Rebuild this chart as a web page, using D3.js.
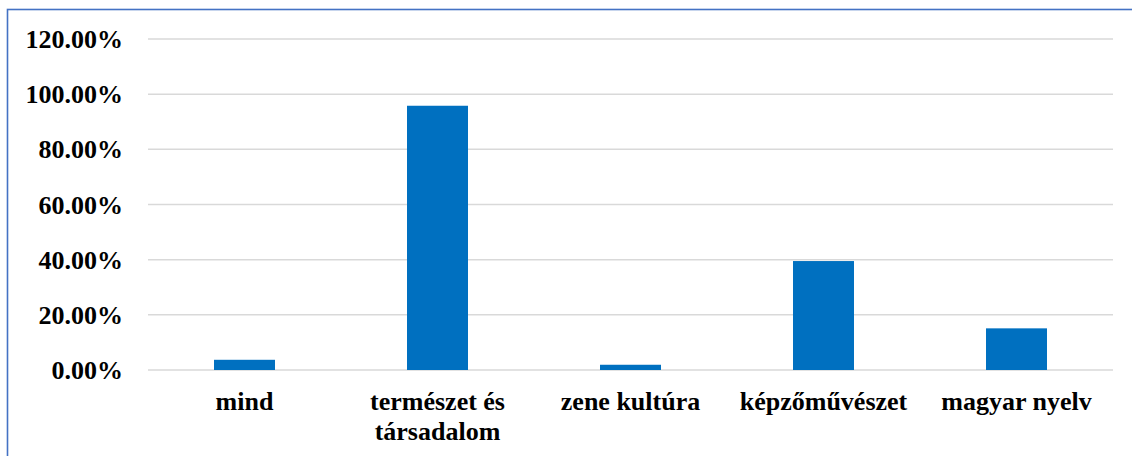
<!DOCTYPE html>
<html>
<head>
<meta charset="utf-8">
<script src="https://cdn.jsdelivr.net/npm/d3@7"></script>
<style>
  body { margin: 0; background: #fff; }
</style>
</head>
<body>
<div id="chart"></div>
<script>
// data
var categories = ["mind", "természet és társadalom", "zene kultúra", "képzőművészet", "magyar nyelv"];
var categoryLines = [["mind"], ["természet és", "társadalom"], ["zene kultúra"], ["képzőművészet"], ["magyar nyelv"]];
var shares = [0.037, 0.958, 0.019, 0.395, 0.151];
var yTicks = [0, 0.2, 0.4, 0.6, 0.8, 1.0, 1.2];

var FONT = "'Liberation Serif', 'Times New Roman', serif";

var W = 1132, H = 456;
var margin = { top: 39, right: 19, bottom: 86, left: 148 };
var width = W - margin.left - margin.right;
var height = H - margin.top - margin.bottom;

var svg = d3.select("#chart").append("svg")
    .attr("width", W)
    .attr("height", H);

// outer frame (only left and top visible)
svg.append("rect")
    .attr("x", 7.5).attr("y", 9.5)
    .attr("width", W + 20).attr("height", H + 20)
    .attr("fill", "none")
    .attr("stroke", "#4472C4")
    .attr("stroke-width", 1.6);

var g = svg.append("g")
    .attr("transform", "translate(" + margin.left + "," + margin.top + ")");

var x = d3.scaleBand()
    .domain(categories)
    .range([0, width])
    .paddingInner(0.684)
    .paddingOuter(0.342);

var y = d3.scaleLinear()
    .domain([0, 1.2])
    .range([height, 0]);

// gridlines
g.append("g")
  .selectAll("line")
  .data(yTicks)
  .enter().append("line")
    .attr("x1", 0).attr("x2", width)
    .attr("y1", function(d) { return y(d); })
    .attr("y2", function(d) { return y(d); })
    .attr("stroke", "#d9d9d9")
    .attr("stroke-width", 1.5);

// y axis labels
var yAxis = d3.axisLeft(y)
    .tickValues(yTicks)
    .tickSize(0)
    .tickPadding(25)
    .tickFormat(function(d) { return (d * 100).toFixed(2) + "%"; });
var ya = g.append("g").call(yAxis);
ya.select(".domain").remove();
ya.attr("font-family", null).attr("font-size", null);
ya.selectAll("text")
    .style("font-family", FONT)
    .style("font-weight", "bold")
    .style("font-size", "26px")
    .style("fill", "#000")
    .attr("dy", "0.33em");

// bars
g.selectAll(".bar")
  .data(shares)
  .enter().append("rect")
    .attr("class", "bar")
    .attr("x", function(d, i) { return x(categories[i]); })
    .attr("width", x.bandwidth())
    .attr("y", function(d) { return y(d); })
    .attr("height", function(d) { return height - y(d); })
    .attr("fill", "#0070C0");

// x labels
var xl = g.append("g").selectAll("text")
  .data(categories)
  .enter().append("text")
    .attr("text-anchor", "middle")
    .style("font-family", FONT)
    .style("font-weight", "bold")
    .style("font-size", "26px")
    .style("fill", "#000")
    .attr("transform", function(d) {
      return "translate(" + (x(d) + x.bandwidth() / 2) + "," + (height + 40) + ")";
    });
xl.each(function(d, i) {
  var t = d3.select(this);
  categoryLines[i].forEach(function(line, k) {
    t.append("tspan").attr("x", 0).attr("y", k * 30).text(line);
  });
});
</script>
</body>
</html>
